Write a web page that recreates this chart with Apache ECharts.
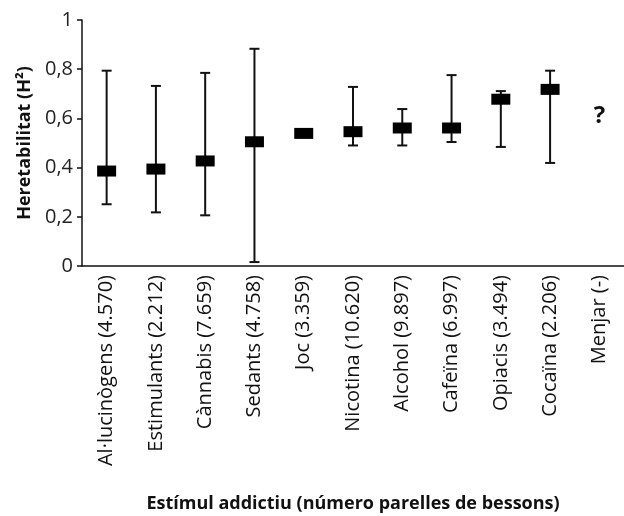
<!DOCTYPE html>
<html>
<head>
<meta charset="utf-8">
<script src="https://cdn.jsdelivr.net/npm/echarts@6/dist/echarts.min.js"></script>
<style>
  html, body { margin: 0; padding: 0; background: #fff; }
  #chart { width: 624px; height: 516px; }
</style>
</head>
<body>
<div id="chart"></div>
<script>
  // categories (twin pairs in parentheses)
  var categories = ['Al·lucinògens (4.570)', 'Estimulants (2.212)', 'Cànnabis (7.659)', 'Sedants (4.758)',
    'Joc (3.359)', 'Nicotina (10.620)', 'Alcohol (9.897)', 'Cafeïna (6.997)', 'Opiacis (3.494)',
    'Cocaïna (2.206)', 'Menjar (-)']
  // heritability estimate, lower and upper limits (null = no data)
  var estimate = [0.386, 0.394, 0.427, 0.505, 0.539, 0.546, 0.561, 0.561, 0.678, 0.718, null]
  var lower = [0.251, 0.218, 0.206, 0.016, null, 0.49, 0.49, 0.504, 0.484, 0.419, null]
  var upper = [0.794, 0.732, 0.785, 0.883, null, 0.728, 0.638, 0.776, 0.711, 0.794, null]
  // unknown value for food, drawn as "?"
  var unknownAt = 10
  var unknownValue = 0.61
  var yTicks = [0, 0.2, 0.4, 0.6, 0.8, 1]

  var font = '"Open Sans", sans-serif'
  var ink = '#111'

  var errData = []
  categories.forEach(function (c, i) {
    if (lower[i] != null && upper[i] != null) errData.push([i, lower[i], upper[i]])
  })
  var pointData = estimate.map(function (v, i) { return v == null ? null : [i, v] }).filter(Boolean)

  var chart = echarts.init(document.getElementById('chart'), null, { renderer: 'canvas' })
  var option = {
    animation: false,
    backgroundColor: '#fff',
    grid: { left: 82, top: 20, width: 548, bottom: 250, containLabel: false },
    xAxis: {
      type: 'category',
      data: categories,
      boundaryGap: true,
      name: 'Estímul addictiu (número parelles de bessons)',
      nameLocation: 'middle',
      nameGap: 229,
      nameTextStyle: { fontFamily: font, fontSize: 18, fontWeight: 'bold', color: ink },
      axisLine: { lineStyle: { color: ink, width: 1.5 } },
      axisTick: { show: false },
      axisLabel: { rotate: 90, interval: 0, margin: 9, fontFamily: font, fontSize: 20, color: ink }
    },
    yAxis: {
      type: 'value',
      min: 0,
      max: 1,
      interval: 0.2,
      name: 'Heretabilitat (H²)',
      nameLocation: 'middle',
      nameGap: 48,
      nameTextStyle: { fontFamily: font, fontSize: 18, fontWeight: 'bold', color: ink },
      splitLine: { show: false },
      axisLine: { show: true, lineStyle: { color: ink, width: 1.5 } },
      axisTick: { show: true, length: 5, lineStyle: { color: ink, width: 1.5 } },
      axisLabel: {
        margin: 9, fontFamily: font, fontSize: 20, color: '#222',
        formatter: function (v) { return yTicks.indexOf(v) >= 0 ? String(v).replace('.', ',') : '' }
      }
    },
    series: [
      {
        type: 'custom',
        data: errData,
        renderItem: function (params, api) {
          var x = api.value(0)
          var lo = api.coord([x, api.value(1)])
          var hi = api.coord([x, api.value(2)])
          var half = 5
          var style = { stroke: ink, lineWidth: 2 }
          return {
            type: 'group',
            children: [
              { type: 'line', shape: { x1: lo[0], y1: lo[1], x2: hi[0], y2: hi[1] }, style: style },
              { type: 'line', shape: { x1: lo[0] - half, y1: lo[1], x2: lo[0] + half, y2: lo[1] }, style: style },
              { type: 'line', shape: { x1: hi[0] - half, y1: hi[1], x2: hi[0] + half, y2: hi[1] }, style: style }
            ]
          }
        },
        z: 2
      },
      {
        type: 'scatter',
        data: pointData,
        symbol: 'rect',
        symbolSize: [19, 11],
        itemStyle: { color: '#000', opacity: 1 },
        z: 3
      },
      {
        type: 'custom',
        data: [[unknownAt, unknownValue]],
        renderItem: function (params, api) {
          var p = api.coord([api.value(0), api.value(1)])
          return {
            type: 'text',
            x: p[0],
            y: p[1],
            style: {
              text: '?', fontFamily: font, fontSize: 24, fontWeight: 'bold', fill: ink,
              align: 'center', verticalAlign: 'middle'
            }
          }
        },
        z: 3
      }
    ]
  }
  chart.setOption(option)
</script>
</body>
</html>
